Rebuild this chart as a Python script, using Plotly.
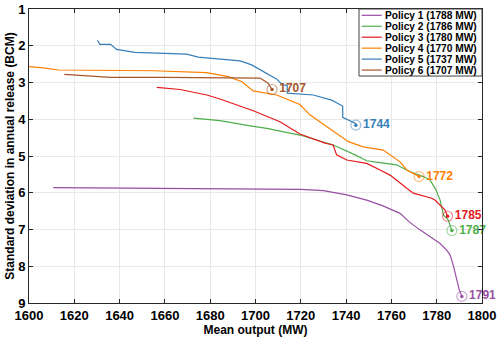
import plotly.graph_objects as go

# mean output (MW) / std of annual release (BCM) along each policy front
p1_x = [1610.7, 1630, 1660, 1690, 1720, 1730, 1740.3, 1749.1, 1756, 1763.8, 1768, 1772.6, 1778.5, 1781.5, 1784.4, 1785.9, 1787.3, 1788.8, 1790, 1791.1]
p1_y = [5.86, 5.87, 5.88, 5.89, 5.91, 5.94, 6.06, 6.20, 6.35, 6.56, 6.80, 7.01, 7.24, 7.38, 7.56, 7.69, 7.97, 8.33, 8.65, 8.82]

p2_x = [1672.6, 1684.3, 1697.6, 1705, 1719.6, 1734.3, 1744, 1749.1, 1755, 1762.3, 1768.2, 1774.1, 1777, 1779.5, 1781.5, 1783, 1785.1, 1785.9, 1786.7]
p2_y = [3.97, 4.04, 4.18, 4.25, 4.43, 4.70, 4.97, 5.13, 5.18, 5.24, 5.43, 5.56, 5.65, 5.90, 6.20, 6.61, 6.74, 6.92, 7.03]

p3_x = [1656.4, 1666.7, 1678.5, 1684.3, 1699, 1710.8, 1719.6, 1730.7, 1734.3, 1735.8, 1740.3, 1749.1, 1755, 1759.4, 1766.8, 1769.7, 1777.8, 1779.2, 1783.7, 1784.8]
p3_y = [3.13, 3.19, 3.34, 3.45, 3.77, 4.07, 4.40, 4.65, 4.70, 4.97, 5.11, 5.20, 5.38, 5.52, 5.88, 6.01, 6.15, 6.20, 6.47, 6.64]

p4_x = [1600, 1606.3, 1613, 1655, 1678.4, 1688, 1694, 1699, 1709.4, 1719.6, 1724, 1734.4, 1741, 1747.6, 1756.4, 1763.8, 1766.8, 1772.2]
p4_y = [2.57, 2.60, 2.66, 2.68, 2.73, 2.84, 2.98, 3.23, 3.34, 3.60, 3.88, 4.34, 4.61, 4.75, 4.84, 5.16, 5.38, 5.56]

p5_x = [1630.2, 1631.3, 1636, 1638.7, 1646.8, 1669.6, 1674.7, 1684.3, 1693.2, 1698.3, 1703.4, 1709.4, 1712, 1714, 1714, 1719.6, 1725.5, 1733.6, 1738.5, 1738.5, 1744, 1744.3]
p5_y = [1.85, 1.96, 1.96, 2.10, 2.18, 2.23, 2.31, 2.37, 2.41, 2.52, 2.71, 2.91, 3.07, 3.07, 3.29, 3.31, 3.34, 3.48, 3.64, 3.95, 4.11, 4.16]

p6_x = [1615.6, 1636, 1660, 1680, 1702, 1705.6, 1707.3]
p6_y = [2.78, 2.86, 2.86, 2.87, 2.88, 3.02, 3.19]

names = ["Policy 1 (1788 MW)", "Policy 2 (1786 MW)", "Policy 3 (1780 MW)",
         "Policy 4 (1770 MW)", "Policy 5 (1737 MW)", "Policy 6 (1707 MW)"]
end_labels = ["1791", "1787", "1785", "1772", "1744", "1707"]
colors = ["#984EA3", "#4DAF4A", "#E41A1C", "#FF7F00", "#377EB8", "#A65628"]
faded = ["rgba(152,78,163,0.5)", "rgba(77,175,74,0.5)", "rgba(228,26,28,0.5)",
         "rgba(255,127,0,0.5)", "rgba(55,126,184,0.5)", "rgba(166,86,40,0.5)"]

series = [(p1_x, p1_y), (p2_x, p2_y), (p3_x, p3_y), (p4_x, p4_y), (p5_x, p5_y), (p6_x, p6_y)]
FONT = "Liberation Sans, Arial, sans-serif"

fig = go.Figure()
for (xs, ys), name, col in zip(series, names, colors):
    fig.add_trace(go.Scatter(x=xs, y=ys, mode="lines", name=name,
                             line=dict(color=col, width=1.2), showlegend=False))

# end points: faded ring with bold label, small dot in the middle
for (xs, ys), lab, col, fcol in zip(series, end_labels, colors, faded):
    fig.add_trace(go.Scatter(x=[xs[-1]], y=[ys[-1]], mode="markers+text", text=[lab],
                             textposition="middle right",
                             textfont=dict(color=col, size=12, family=FONT, weight="bold"),
                             marker=dict(size=10, color="rgba(0,0,0,0)", line=dict(color=fcol, width=1.2)),
                             showlegend=False, hoverinfo="skip", cliponaxis=False))
    fig.add_trace(go.Scatter(x=[xs[-1]], y=[ys[-1]], mode="markers",
                             marker=dict(size=3.5, color=col),
                             showlegend=False, hoverinfo="skip"))

# compact legend box in the top right corner
fig.add_shape(type="rect", xref="paper", yref="paper", x0=0.7285, x1=1.0, y0=0.772, y1=1.0,
              line=dict(color="#404040", width=1), fillcolor="white", layer="above")
for i, (name, col) in enumerate(zip(names, colors)):
    yy = 1 - (6.3 + 10.95 * i) / 294
    fig.add_shape(type="line", xref="paper", yref="paper", x0=0.7345, x1=0.7786, y0=yy, y1=yy,
                  line=dict(color=col, width=1.2), layer="above")
    fig.add_annotation(xref="paper", yref="paper", x=0.781, y=yy, text=name, showarrow=False,
                       xanchor="left", yanchor="middle",
                       font=dict(size=10.2, color="black", family=FONT, weight="bold"))

axis_common = dict(showline=True, linecolor="#262626", linewidth=1, mirror="ticks",
                   ticks="inside", ticklen=4, tickcolor="#262626", automargin=False,
                   showgrid=True, gridcolor="#e8e8e8", gridwidth=1, zeroline=False,
                   tickfont=dict(size=13, color="black", family=FONT, weight="bold"))

fig.update_xaxes(range=[1600, 1800], dtick=20, tick0=1600,
                 title=dict(text="Mean output (MW)", standoff=2,
                            font=dict(size=12, color="black", family=FONT, weight="bold")),
                 **axis_common)
fig.update_yaxes(range=[9, 1], dtick=1, tick0=1,
                 title=dict(text="Standard deviation in annual release (BCM)", standoff=0,
                            font=dict(size=12, color="black", family=FONT, weight="bold")),
                 **axis_common)

fig.update_layout(width=500, height=338, margin=dict(l=29, r=18, t=9, b=35),
                  plot_bgcolor="white", paper_bgcolor="white", showlegend=False)

fig.write_html("out.html", config={"displayModeBar": False},
               post_script="document.body.style.margin='0';")
